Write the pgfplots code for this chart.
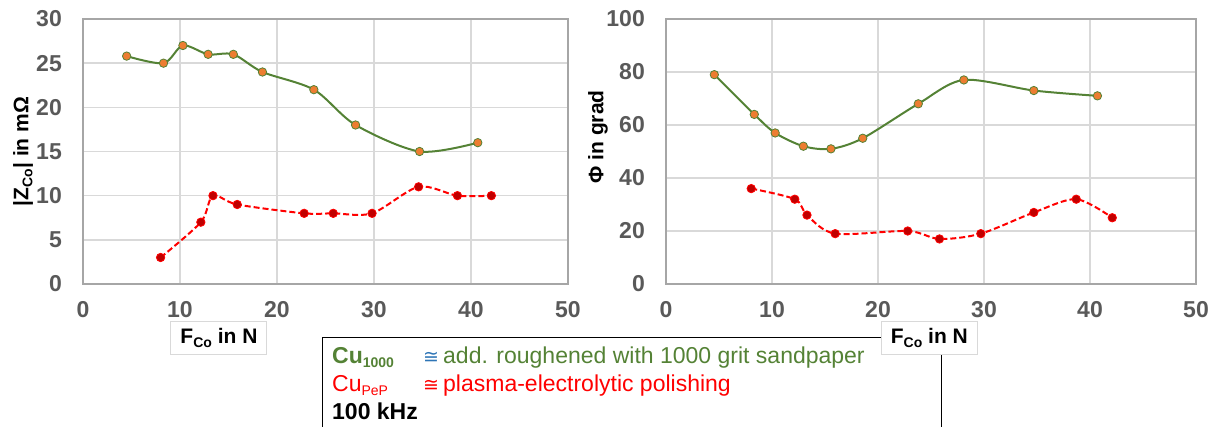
\documentclass[border=0pt]{standalone}
\usepackage{fontspec}
\setmainfont{Liberation Sans}
\newfontfamily\djv{DejaVu Sans}
\usepackage{pgfplots}
\pgfplotsset{compat=1.18}
\definecolor{cgreen}{HTML}{548235}
\definecolor{corange}{HTML}{ED7D31}
\definecolor{cred}{HTML}{FF0000}
\definecolor{cdred}{HTML}{C00000}
\definecolor{ctick}{HTML}{595959}
\definecolor{cgrid}{HTML}{D9D9D9}
\definecolor{cframe}{HTML}{A6A6A6}
\definecolor{cblue}{HTML}{2E75B6}
\newcommand{\sub}[1]{\raisebox{-4pt}{\fontsize{14}{14}\selectfont #1}}
\pgfplotsset{myaxis/.style={
  scale only axis, height=265pt, xmin=0, xmax=50, xtick={0,10,...,50},
  grid=major, major grid style={cgrid, line width=1.5pt},
  axis line style={cframe, line width=1.5pt},
  major tick length=0pt, tick style={draw=none},
  /pgf/number format/assume math mode=true,
  ticklabel style={font=\fontsize{23}{23}\selectfont\bfseries, text=ctick},
  xticklabel style={anchor=north, inner sep=0pt, yshift=-17pt},
  yticklabel style={anchor=east, inner sep=0pt, xshift=-21pt},
  label style={font=\fontsize{21}{21}\selectfont\bfseries},
  xlabel style={draw=cgrid, line width=1pt, fill=white, minimum width=96pt, minimum height=33pt, inner sep=0pt, anchor=center, text=black},
  clip=false,
  green line/.style={cgreen, line width=2pt, smooth, tension=0.5, mark=*, mark size=4.2pt, mark options={fill=corange, draw=cgreen, line width=0.8pt, solid}},
  red line/.style={cred, line width=2pt, smooth, tension=0.5, dash pattern=on 6pt off 3pt, mark=*, mark size=4.2pt, mark options={fill=cdred, draw=cred, line width=0.8pt, solid}},
}}
\begin{document}
\begin{tikzpicture}[x=1pt,y=1pt]
\useasboundingbox (0,0) rectangle (1216,-427);
% legend box
\draw[black, line width=1pt] (322,-337.5) rectangle (941,-460);
\begin{scope}[every node/.style={anchor=base west, inner sep=0pt, font=\fontsize{23}{23}\selectfont}]
\node[text=cgreen] at (332,-364) {\textbf{Cu\sub{\bfseries 1000}}};
\node[text=cblue] at (423,-364) {\fontsize{19}{19}\selectfont\djv ≅};
\node[text=cgreen] at (443,-364) {add. roughened with 1000 grit sandpaper};
\node[text=cred] at (332,-392) {Cu\sub{PeP}};
\node[text=cred] at (423,-392) {\fontsize{19}{19}\selectfont\djv ≅};
\node[text=cred] at (443,-392) {plasma-electrolytic polishing};
\node[text=black] at (332,-420) {\textbf{100 kHz}};
\end{scope}
% left axis
\begin{axis}[myaxis, width=485pt, at={(83pt,-284pt)}, anchor=south west,
  ymin=0, ymax=30, ytick={0,5,...,30},
  ylabel={|Z\sub{\bfseries Co}| in mΩ},
  ylabel style={at={(axis description cs:0,0.5)}, anchor=center, yshift=60pt},
  xlabel={F\sub{\bfseries Co} in N},
  xlabel style={at={(axis description cs:0.2804,-0.2019)}}]
\addplot[green line] coordinates {(4.5,25.8)(8.3,25)(10.3,27)(12.9,26)(15.5,26)(18.5,24)(23.8,22)(28.1,18)(34.7,15)(40.7,16)};
\addplot[red line] coordinates {(8.0,3)(12.15,7)(13.4,10)(15.9,9)(22.8,8)(25.8,8)(29.8,8)(34.6,11)(38.6,10)(42.1,10)};
\end{axis}
% right axis
\begin{axis}[myaxis, width=530pt, at={(666pt,-284pt)}, anchor=south west,
  ymin=0, ymax=100, ytick={0,20,...,100},
  ylabel={Φ in grad},
  ylabel style={at={(axis description cs:0,0.555)}, anchor=center, yshift=68pt},
  xlabel={F\sub{\bfseries Co} in N},
  xlabel style={at={(axis description cs:0.497,-0.2019)}}]
\addplot[green line] coordinates {(4.56,79)(8.33,64)(10.3,57)(12.96,52)(15.56,51)(18.56,55)(23.8,68)(28.1,77)(34.7,73)(40.7,71)};
\addplot[red line] coordinates {(8.04,36)(12.15,32)(13.3,26)(15.96,19)(22.8,20)(25.8,17)(29.7,19)(34.7,27)(38.7,32)(42.1,25)};
\end{axis}
\end{tikzpicture}
\end{document}
